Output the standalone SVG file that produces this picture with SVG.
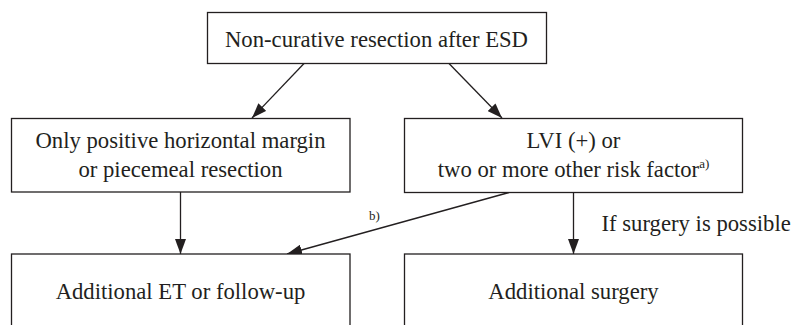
<svg xmlns="http://www.w3.org/2000/svg" width="791" height="325" viewBox="0 0 791 325" font-family="Liberation Serif, Times New Roman, serif">
<defs>
<style>
.box{fill:#fff;stroke:#231f20;stroke-width:1.3}
.t{font-size:22.7px;fill:#231f20;text-anchor:middle}
.s{font-size:13px;fill:#231f20}
.c{stroke:#231f20;stroke-width:1.3;fill:none}
</style>
<marker id="ah" markerUnits="userSpaceOnUse" markerWidth="15" markerHeight="11" refX="15" refY="5.5" orient="auto">
<path d="M0,0 L15,5.5 L0,11 z" fill="#231f20"/>
</marker>
</defs>
<rect width="791" height="325" fill="#fff"/>
<g id="connectors">
<line class="c" x1="304" y1="63.5" x2="252" y2="118" marker-end="url(#ah)"/>
<line class="c" x1="449" y1="63.5" x2="502" y2="118" marker-end="url(#ah)"/>
<line class="c" x1="180.5" y1="192" x2="180.5" y2="254" marker-end="url(#ah)"/>
<line class="c" x1="573.5" y1="192.5" x2="573.5" y2="254" marker-end="url(#ah)"/>
<line class="c" x1="509" y1="192.5" x2="287" y2="254" marker-end="url(#ah)"/>
<text class="s" font-family="Liberation Serif" x="369" y="220">b)</text>
<text class="t" font-family="Liberation Serif" x="601.5" y="230.5" style="text-anchor:start">If surgery is possible</text>
</g>
<g id="n1">
<rect class="box" x="207.5" y="12.5" width="339" height="51"/>
<text class="t" font-family="Liberation Serif" x="376.5" y="46.7">Non-curative resection after ESD</text>
</g>
<g id="n2">
<rect class="box" x="11.5" y="118.5" width="338.5" height="73.5"/>
<text class="t" font-family="Liberation Serif" x="180.5" y="148.3">Only positive horizontal margin</text>
<text class="t" font-family="Liberation Serif" x="180.5" y="176.7">or piecemeal resection</text>
</g>
<g id="n3">
<rect class="box" x="404.5" y="118.5" width="338" height="74"/>
<text class="t" font-family="Liberation Serif" x="573.5" y="148.3">LVI (+) or</text>
<text class="t" font-family="Liberation Serif" x="573.5" y="177">two or more other risk factor<tspan style="font-size:13px" dy="-9">a)</tspan></text>
</g>
<g id="n4">
<rect class="box" x="11.5" y="254" width="338.5" height="90"/>
<text class="t" font-family="Liberation Serif" x="180.5" y="298.5">Additional ET or follow-up</text>
</g>
<g id="n5">
<rect class="box" x="404.5" y="254" width="338" height="90"/>
<text class="t" font-family="Liberation Serif" x="573.5" y="298.5">Additional surgery</text>
</g>
</svg>
